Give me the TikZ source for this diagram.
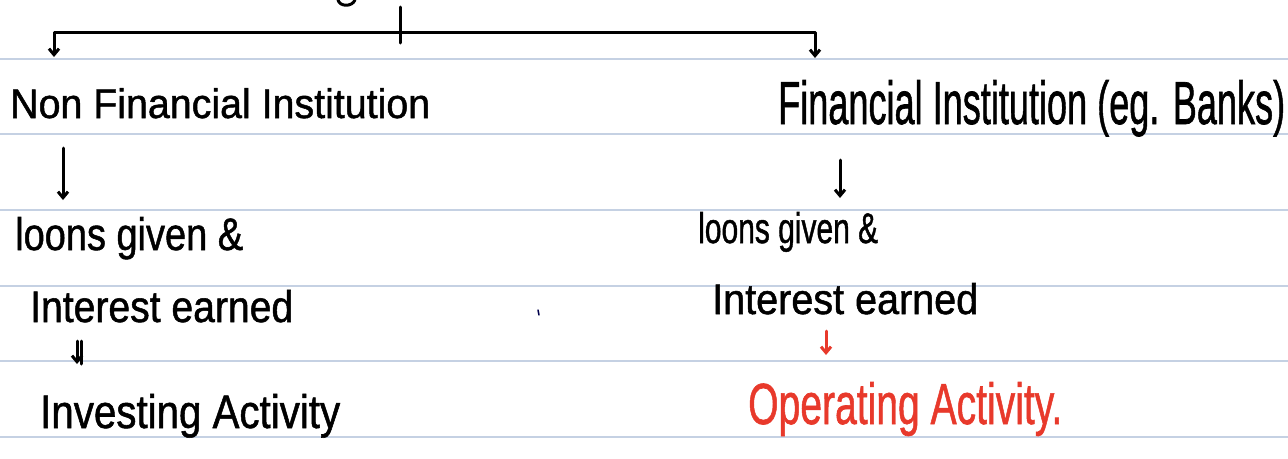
\documentclass[tikz,border=0pt]{standalone}
\usepackage{fontspec}
\setmainfont{Liberation Sans}
\newfontfamily\handfont{Liberation Sans}[FakeBold=1.2]
\usetikzlibrary{arrows.meta}
% scale a text to a given width and height (in pt)
\newcommand\handtext[3]{\resizebox{#1pt}{#2pt}{\handfont #3}}
\definecolor{ruling}{HTML}{C5D1E3}
\definecolor{ink}{HTML}{000000}
\definecolor{redink}{HTML}{E8392B}
\tikzset{
  handtip/.tip={Straight Barb[length=6pt,width=10pt,line width=3pt]},
  pen/.style={draw=ink,line width=3pt,line cap=round,line join=round},
  redpen/.style={pen,draw=redink},
  words/.style={inner sep=0pt,anchor=base west,text=ink},
  redwords/.style={words,text=redink},
  ruled/.style={draw=ruling,line width=1.6pt}
}
\begin{document}
\begin{tikzpicture}[x=1pt,y=-1pt]
  % page and ruled lines
  \fill[white] (0,0) rectangle (1288,458);
  \useasboundingbox (0,0) rectangle (1288,458);
  \foreach \yy in {59,134,210,286,361,437}
    \draw[ruled] (0,\yy) -- (1288,\yy);

  % tail of a letter from the line above
  \draw[pen] (338,0) .. controls (340,7) and (352,7) .. (355,0);

  % branching bar
  \coordinate (stem) at (400,7);
  \coordinate (stemEnd) at (400,43);
  \coordinate (barL) at (54,32);
  \coordinate (barR) at (815,32);
  \coordinate (nfIn) at (54,57);
  \coordinate (fIn) at (815,58);
  \draw[pen] (stem) -- (stemEnd);
  \draw[pen,handtip-handtip] (nfIn) -- (barL) -- (barR) -- (fIn);

  % left column
  \node[words] (nonfin) at (10,118) {\handtext{420}{30}{Non Financial Institution}};
  \node[words] (loansL) at (15,250) {\handtext{228}{33}{loons given \&}};
  \node[words] (intL) at (30,322) {\handtext{263}{32}{Interest earned}};
  \node[words] (invest) at (40,428) {\handtext{300}{34}{Investing Activity}};

  \coordinate (a1s) at (63,148);
  \coordinate (a1e) at (63,200);
  \draw[pen,-handtip] (a1s) -- (a1e);
  \coordinate (a2s) at (77,341);
  \coordinate (a2e) at (77,364);
  \draw[pen,-handtip] (a2s) -- (a2e);
  \draw[pen] ([xshift=4pt]a2s) -- ([xshift=4pt]a2e);

  % right column
  \node[words] (fin) at (778,124) {\handtext{507}{44}{Financial Institution (eg. Banks)}};
  \node[words] (loansR) at (698,243) {\handtext{180}{31}{loons given \&}};
  \node[words] (intR) at (712,314) {\handtext{266}{31}{Interest earned}};
  \node[redwords] (operate) at (748,424) {\handtext{314}{42}{Operating Activity.}};

  \coordinate (b1s) at (840,160);
  \coordinate (b1e) at (840,198);
  \draw[pen,-handtip] (b1s) -- (b1e);
  \coordinate (b2s) at (826,331);
  \coordinate (b2e) at (826,355);
  \draw[redpen,-handtip] (b2s) -- (b2e);

  % stray pen mark
  \draw[draw=ink!70!blue,line width=1.5pt,line cap=round] (538,310) -- (539,315);
\end{tikzpicture}
\end{document}
